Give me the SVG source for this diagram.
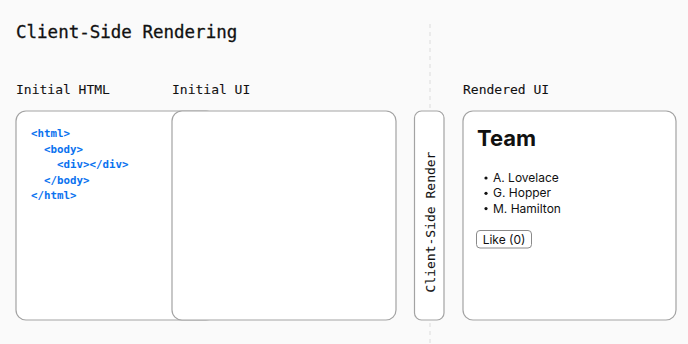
<svg xmlns="http://www.w3.org/2000/svg" width="688" height="344" viewBox="0 0 688 344">
<style>
.mono{font-family:"DejaVu Sans Mono","Liberation Mono",monospace;fill:#111;stroke:#111;stroke-width:0.1}
.title{font-size:17.5px;stroke-width:0.3}
.label{font-size:13px}
.box{fill:#fff;stroke:#a3a3a3;stroke-width:1.2}
.code{font-family:"DejaVu Sans Mono","Liberation Mono",monospace;font-size:10.8px;font-weight:bold;fill:#0a72ef}
.ui{font-family:Inter,"Liberation Sans",sans-serif;fill:#111}
.divider{stroke:#dcdcdc;stroke-width:1;stroke-dasharray:4 4}
</style>
<rect width="688" height="344" fill="#fafafa"/>
<g id="connectors">
<line class="divider" x1="430" y1="24" x2="430" y2="108"/>
<line class="divider" x1="430" y1="323" x2="430" y2="344"/>
</g>
<text class="mono title" x="16" y="38">Client-Side Rendering</text>
<g id="initial-html">
<text class="mono label" x="16" y="94">Initial HTML</text>
<rect class="box" x="16" y="111" width="200" height="209" rx="10"/>
<text class="code" x="31" y="137">&lt;html&gt;</text>
<text class="code" x="44" y="152.5">&lt;body&gt;</text>
<text class="code" x="57" y="168">&lt;div&gt;&lt;/div&gt;</text>
<text class="code" x="44" y="183.5">&lt;/body&gt;</text>
<text class="code" x="31" y="199">&lt;/html&gt;</text>
</g>
<g id="initial-ui">
<text class="mono label" x="172" y="94">Initial UI</text>
<rect class="box" x="172" y="111" width="224" height="209" rx="10"/>
</g>
<g id="client-side-render">
<rect class="box" x="414.5" y="111" width="29.5" height="209" rx="7"/>
<text class="mono label" transform="translate(434.5 222) rotate(-90)" text-anchor="middle">Client-Side Render</text>
</g>
<g id="rendered-ui">
<text class="mono label" x="463" y="94">Rendered UI</text>
<rect class="box" x="463" y="111" width="213" height="209" rx="10"/>
<text class="ui" x="477" y="146" font-size="22" font-weight="bold">Team</text>
<circle cx="486" cy="178" r="1.6" fill="#111"/>
<circle cx="486" cy="193.3" r="1.6" fill="#111"/>
<circle cx="486" cy="208.6" r="1.6" fill="#111"/>
<text class="ui" x="493" y="182" font-size="12">A. Lovelace</text>
<text class="ui" x="493" y="197.3" font-size="12">G. Hopper</text>
<text class="ui" x="493" y="212.6" font-size="12">M. Hamilton</text>
<rect x="476.5" y="230.5" width="55" height="17.5" rx="3.5" fill="#fff" stroke="#8a8a8a" stroke-width="1"/>
<text class="ui" x="504" y="243.5" font-size="12" text-anchor="middle">Like (0)</text>
</g>
</svg>
